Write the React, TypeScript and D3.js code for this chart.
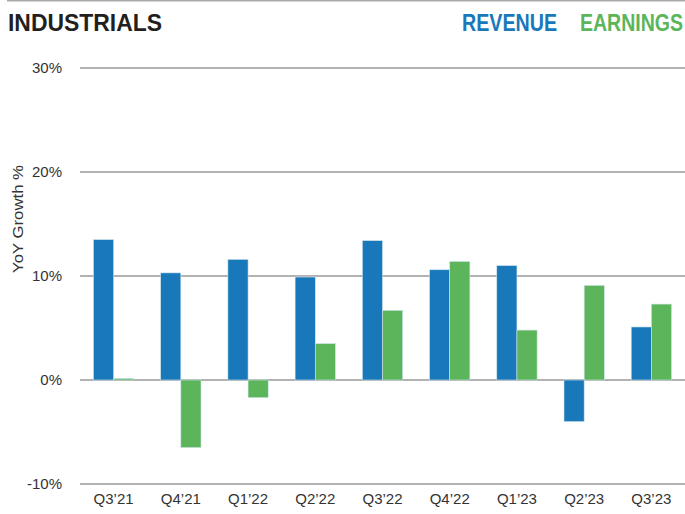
import React from "react";
import * as d3 from "d3";

const categories = ["Q3’21", "Q4’21", "Q1’22", "Q2’22", "Q3’22", "Q4’22", "Q1’23", "Q2’23", "Q3’23"];
const revenue = [13.5, 10.3, 11.6, 9.9, 13.4, 10.6, 11.0, -4.0, 5.1];
const earnings = [0.15, -6.5, -1.7, 3.5, 6.7, 11.4, 4.8, 9.1, 7.3];
const yTicks = [-10, 0, 10, 20, 30];
const seriesNames = ["REVENUE", "EARNINGS"];
const colors = ["#1878ba", "#5cb55a"];

const W = 685;
const H = 514;
const left = 80;
const right = 685;
const top = 68;
const bottom = 484;

export default function App() {
  const x = d3.scaleBand<string>().domain(categories).range([left, right]).paddingInner(0.4).paddingOuter(0.2);
  const inner = d3.scaleBand<number>().domain([0, 1]).range([0, x.bandwidth()]);
  const y = d3.scaleLinear().domain([-10, 30]).range([bottom, top]);
  const series = [revenue, earnings];
  const font = "'Liberation Sans', Arial, sans-serif";
  return (
    <svg width={W} height={H} style={{ position: "absolute", left: 0, top: 0, background: "#fff" }}>
      <line x1={7} x2={W} y1={0.75} y2={0.75} stroke="#aaa" strokeWidth={1.5} />
      <text x={8} y={31} textLength={154} lengthAdjust="spacingAndGlyphs" fontFamily={font} fontWeight="bold" fontSize={24} fill="#231f20">INDUSTRIALS</text>
      <text x={462} y={31} textLength={95} lengthAdjust="spacingAndGlyphs" fontFamily={font} fontWeight="bold" fontSize={24} fill={colors[0]}>{seriesNames[0]}</text>
      <text x={580} y={31} textLength={103} lengthAdjust="spacingAndGlyphs" fontFamily={font} fontWeight="bold" fontSize={24} fill={colors[1]}>{seriesNames[1]}</text>
      {yTicks.map((t) => (
        <g key={t}>
          <line x1={left} x2={right} y1={y(t)} y2={y(t)} stroke="#999" strokeWidth={1.5} />
          <text x={62} y={y(t) + 5} textAnchor="end" fontFamily={font} fontSize={15} fill="#333">{t}%</text>
        </g>
      ))}
      <text transform={`translate(23,${219}) rotate(-90)`} textAnchor="middle" textLength={108} lengthAdjust="spacingAndGlyphs" fontFamily={font} fontSize={14.5} fill="#333">YoY Growth %</text>
      {categories.map((c, i) => (
        <g key={c}>
          {series.map((s, k) => {
            const v = s[i];
            return (
              <rect key={k} x={(x(c) ?? 0) + (inner(k) ?? 0)} width={inner.bandwidth()} y={Math.min(y(v), y(0))} height={Math.abs(y(v) - y(0))} fill={colors[k]} stroke="#cfe3ef" strokeWidth={0.6} />
            );
          })}
          <text x={(x(c) ?? 0) + x.bandwidth() / 2} y={504} textAnchor="middle" fontFamily={font} fontSize={15} fill="#333">{c}</text>
        </g>
      ))}
    </svg>
  );
}
